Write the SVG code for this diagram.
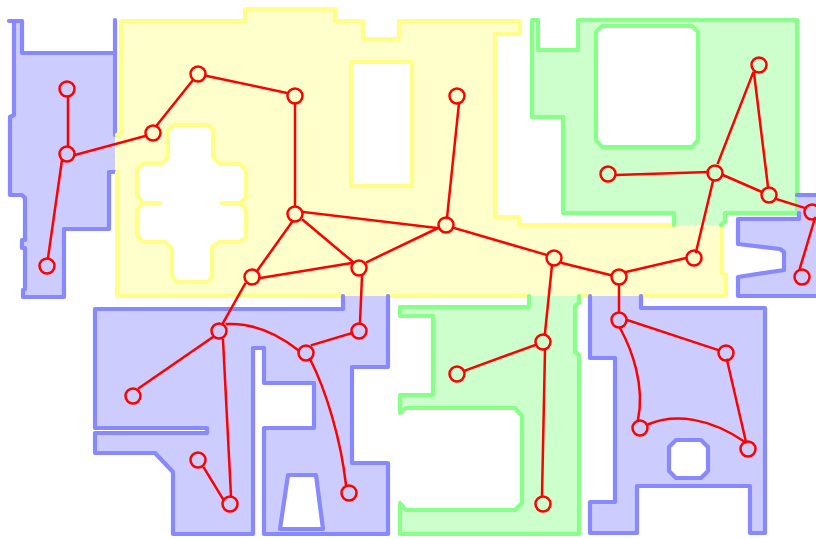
<svg xmlns="http://www.w3.org/2000/svg" width="816" height="539" viewBox="0 0 816 539">
<style>
.f{stroke:none;fill-rule:evenodd}
.s{fill:none;stroke-width:4.2;stroke-linejoin:round;stroke-linecap:round}
.by{fill:#ffffcc}.sy{stroke:#ffff88}
.bb{fill:#ccccff}.sb{stroke:#8888ff}
.bg{fill:#ccffcc}.sg{stroke:#88ff88}
#connectors path{fill:none;stroke:#ff0000;stroke-width:2.5;stroke-linecap:square}
.n{fill:none;stroke:#ff0000;stroke-width:2.5}
</style>
<defs><filter id="soft" x="0" y="0" width="816" height="539" filterUnits="userSpaceOnUse"><feGaussianBlur stdDeviation="0.45"/></filter></defs>
<rect width="816" height="539" fill="#ffffff"/>
<g filter="url(#soft)">
<g id="regions">
<g id="region-blue-left">
<path class="f bb" d="M9 21H22V53H115V172H109V229H64V297H23V290L25 289V248H22V240H25V198L22 195H10V117L14 115V21Z"/>
<path class="s sb" d="M115 20V135M116 172H109V229H64V297H23V290L25 289V248H22V240H25V198L22 195H10V117L14 115V21H9M14 21H22V53H115"/>
</g>
<g id="region-yellow">
<path class="f by" d="M116 135L121 133V21H245V9H335V21H363V39H399V21H520V34H495V217H519V225H722V273L726 275V296H116ZM174 125L168 131V157L162 164H143L137 170V195L143 203L137 210V235L143 242H165L172 249V276L177 282H208L212 277V247L219 242H240L246 237V210L240 203L246 198V170L240 164H220L213 157V130L208 125ZM351 62V186H413V62Z"/>
<path class="s sy" d="M117 135L121 133V21H245V9H335V21H363V39H399V21H520V34H495V217H519V225H674M722 225V273L726 275V296H640M590 296H578M528 296H388M343 296H117V172"/>
<path class="s sy" d="M174 125L168 131V157L162 164H143L137 170V195L143 203H160M143 203L137 210V235L143 242H165L172 249V276L177 282H208L212 277V247L219 242H240L246 237V210L240 203H222M240 203L246 198V170L240 164H220L213 157V130L208 125H174"/>
<path class="s sy" d="M351 62H412V186H351Z"/>
</g>
<g id="region-blue-bottom-left">
<path class="f bb" d="M95 310H343V296H388V367H352V463H388V534H264V428H314V383H264V348H253V534H173V472L155 453H95V433H207V428H95ZM288 475L280 529H323L316 475Z"/>
<path class="s sb" d="M343 296V309H95V428H207V433H95V453H155L173 472V534H253V348H264V383H314V428H264V534H388V463H352V367H388V296"/>
<path class="s sb" d="M288 475H316L323 529H280Z"/>
</g>
<g id="region-green-bottom">
<path class="f bg" d="M400 307H529V296H579V303L575 306V352L579 355V534H400V503L406 510H515L522 503V416L515 408H406L400 413V395H433V316H400Z"/>
<path class="s sg" d="M529 296V307H400V316H433V395H400V413L406 408H515L522 416V503L515 510H406L400 503V534H579V355L575 352V306L579 303V296"/>
</g>
<g id="region-blue-bottom-right">
<path class="f bb" d="M590 296H641V307H765V533H750V486H637V533H590V502H615V358H590ZM676 440L669 447V471L676 478H701L708 471V447L701 440Z"/>
<path class="s sb" d="M641 296V308H765V533H750V486H637V533H590V502H615V358H590V296"/>
<path class="s sb" d="M676 440H701L708 447V471L701 478H676L669 471V447Z"/>
</g>
<g id="region-green-top">
<path class="f bg" d="M532 20H538V50H578V20H797V213H725V224L721 225H674V213H563V117H532ZM602 26L596 32V140L602 147H692L698 140V32L692 26Z"/>
<path class="s sg" d="M721 225L725 222V213H797V20H578V50H538V20H532V117H563V213H674V225"/>
<path class="s sg" d="M602 26H692L698 32V140L692 147H602L596 140V32Z"/>
</g>
<g id="region-blue-right">
<path class="f bb" d="M797 195H816V296H738V277L784 270V252L780 249L738 244V219H799V213H797Z"/>
<path class="s sb" d="M816 195H797M799 213V219H738V244L780 249L784 252V270L738 277V296H816"/>
</g>
</g>
<g id="connectors">
<path d="M68 97V146"/><path d="M62 160L48 258"/><path d="M75 155L145 136"/><path d="M157 125L193 80"/><path d="M207 76L287 93"/><path d="M295 104V206"/><path d="M303 212L438 228"/><path d="M303 220L353 262"/><path d="M292 222L257 271"/><path d="M459 103L447 218"/><path d="M438 228L367 262"/><path d="M352 263L260 278"/><path d="M362 276L360 323"/><path d="M352 333L312 345"/><path d="M245 284L223 323"/><path d="M213 337L139 388"/><path d="M223 340L231 496"/><path d="M204 468L223 499"/><path d="M227 324C250 323 275 332 298 350"/><path d="M310 359C326 390 341 440 346 485"/><path d="M454 228L547 255"/><path d="M562 263L610 275"/><path d="M552 265L545 333"/><path d="M535 345L464 371"/><path d="M545 350L542 496"/><path d="M626 272L686 258"/><path d="M619 285V312"/><path d="M627 320L718 350"/><path d="M727 360L746 442"/><path d="M620 328C632 350 645 385 638 420"/><path d="M649 424C675 413 710 418 745 442"/><path d="M696 252L713 181"/><path d="M616 175L708 172"/><path d="M718 163L753 73"/><path d="M754 73L768 187"/><path d="M723 175L762 192"/><path d="M776 199L805 208"/><path d="M815 218L800 268"/>
</g>
<g id="n1"><circle class="n" cx="67" cy="89" r="7.5"/></g>
<g id="n2"><circle class="n" cx="67" cy="154" r="7.5"/></g>
<g id="n3"><circle class="n" cx="47" cy="266" r="7.5"/></g>
<g id="n4"><circle class="n" cx="153" cy="133" r="7.5"/></g>
<g id="n5"><circle class="n" cx="198" cy="74" r="7.5"/></g>
<g id="n6"><circle class="n" cx="295" cy="96" r="7.5"/></g>
<g id="n7"><circle class="n" cx="295" cy="214" r="7.5"/></g>
<g id="n8"><circle class="n" cx="457" cy="96" r="7.5"/></g>
<g id="n9"><circle class="n" cx="446" cy="225" r="7.5"/></g>
<g id="n10"><circle class="n" cx="359" cy="268" r="7.5"/></g>
<g id="n11"><circle class="n" cx="252" cy="277" r="7.5"/></g>
<g id="n12"><circle class="n" cx="219" cy="331" r="7.5"/></g>
<g id="n13"><circle class="n" cx="359" cy="331" r="7.5"/></g>
<g id="n14"><circle class="n" cx="306" cy="353" r="7.5"/></g>
<g id="n15"><circle class="n" cx="133" cy="396" r="7.5"/></g>
<g id="n16"><circle class="n" cx="198" cy="460" r="7.5"/></g>
<g id="n17"><circle class="n" cx="230" cy="504" r="7.5"/></g>
<g id="n18"><circle class="n" cx="349" cy="493" r="7.5"/></g>
<g id="n19"><circle class="n" cx="543" cy="342" r="7.5"/></g>
<g id="n20"><circle class="n" cx="457" cy="374" r="7.5"/></g>
<g id="n21"><circle class="n" cx="543" cy="504" r="7.5"/></g>
<g id="n22"><circle class="n" cx="554" cy="258" r="7.5"/></g>
<g id="n23"><circle class="n" cx="619" cy="277" r="7.5"/></g>
<g id="n24"><circle class="n" cx="694" cy="258" r="7.5"/></g>
<g id="n25"><circle class="n" cx="619" cy="320" r="7.5"/></g>
<g id="n26"><circle class="n" cx="726" cy="353" r="7.5"/></g>
<g id="n27"><circle class="n" cx="640" cy="428" r="7.5"/></g>
<g id="n28"><circle class="n" cx="748" cy="449" r="7.5"/></g>
<g id="n29"><circle class="n" cx="715" cy="173" r="7.5"/></g>
<g id="n30"><circle class="n" cx="608" cy="174" r="7.5"/></g>
<g id="n31"><circle class="n" cx="759" cy="65" r="7.5"/></g>
<g id="n32"><circle class="n" cx="769" cy="195" r="7.5"/></g>
<g id="n33"><circle class="n" cx="812" cy="212" r="7.5"/></g>
<g id="n34"><circle class="n" cx="802" cy="277" r="7.5"/></g>
</g>
</svg>
